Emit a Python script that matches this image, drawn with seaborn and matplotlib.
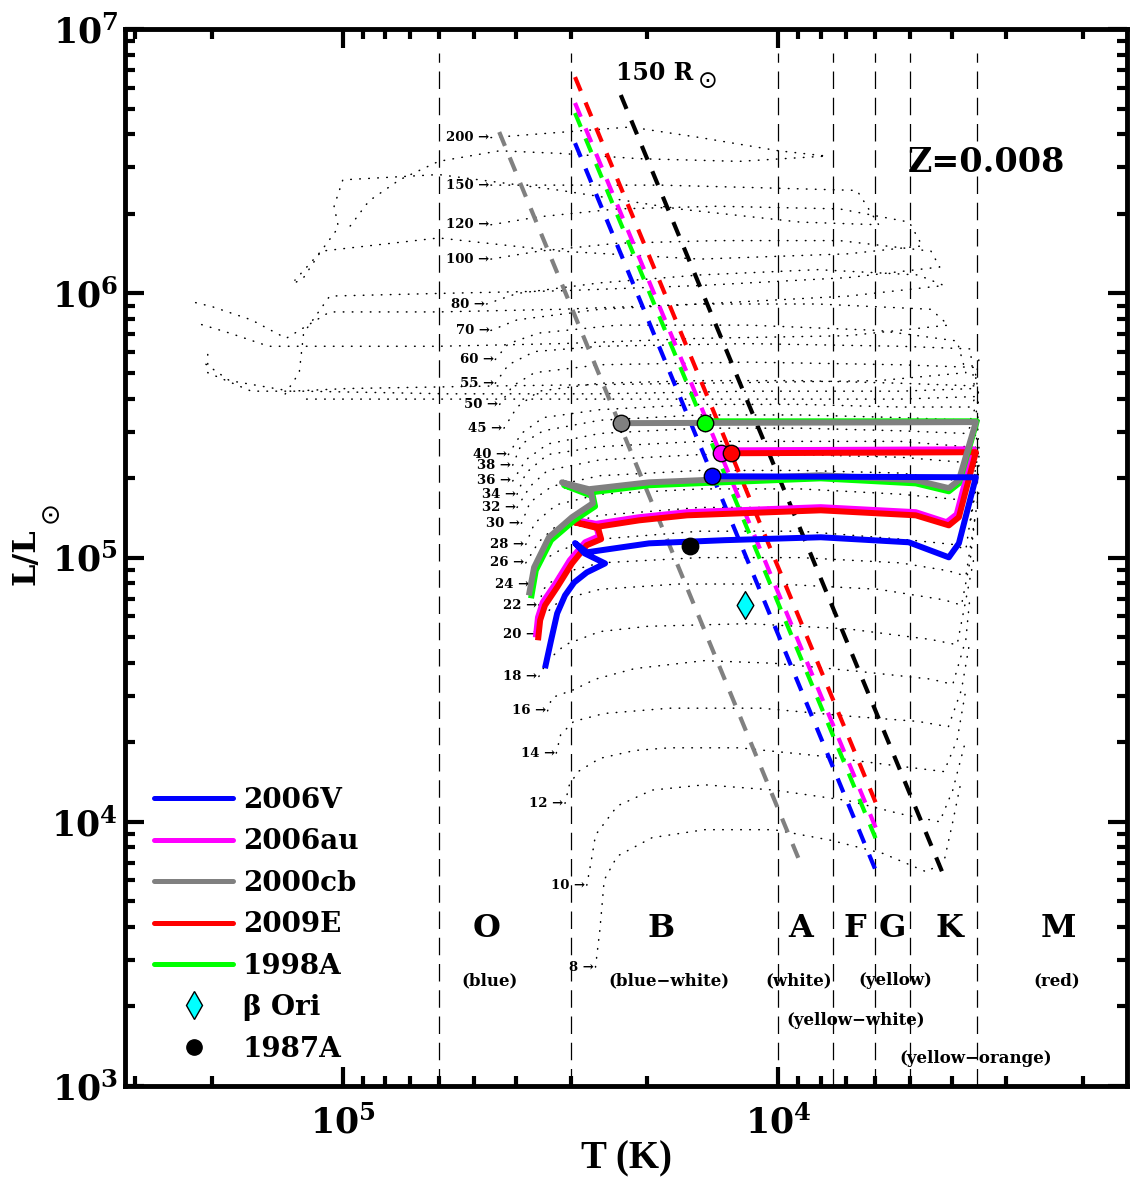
import numpy as np
import matplotlib
matplotlib.use("Agg")
import matplotlib.pyplot as plt
import seaborn as sns
from matplotlib.lines import Line2D
from matplotlib.ticker import NullFormatter

# ------------------------------------------------------------------
# DATA (log10 T [K], log10 L [Lsun])
# ------------------------------------------------------------------
# Dotted stellar evolution tracks (Z=0.008), one pair of lists per mass
track_masses = [8, 10, 12, 14, 16, 18, 20, 22, 24, 26, 28, 30, 32, 34, 36,
                38, 40, 45, 50, 55, 60, 70, 80, 100, 120, 150, 200]

m8_logT = [4.42, 4.41, 4.40, 4.37, 4.29, 4.17, 4.01, 3.88, 3.76, 3.66, 3.62, 3.60, 3.58]
m8_logL = [3.45, 3.59, 3.78, 3.87, 3.94, 3.97, 3.97, 3.93, 3.88, 3.81, 3.85, 4.00, 4.16]
m10_logT = [4.44, 4.43, 4.42, 4.37, 4.29, 4.17, 4.01, 3.84, 3.72, 3.63, 3.60, 3.57]
m10_logL = [3.76, 3.85, 3.95, 4.06, 4.12, 4.14, 4.12, 4.08, 4.03, 4.00, 4.12, 4.31]
m12_logT = [4.49, 4.48, 4.46, 4.41, 4.33, 4.25, 4.09, 3.91, 3.72, 3.62, 3.59, 3.57]
m12_logL = [4.07, 4.14, 4.19, 4.24, 4.27, 4.28, 4.28, 4.25, 4.21, 4.19, 4.31, 4.50]
m14_logT = [4.51, 4.50, 4.47, 4.40, 4.25, 4.04, 3.84, 3.68, 3.61, 3.58, 3.56]
m14_logL = [4.26, 4.33, 4.38, 4.41, 4.43, 4.43, 4.40, 4.38, 4.36, 4.50, 4.69]
m16_logT = [4.53, 4.52, 4.47, 4.42, 4.33, 4.17, 4.01, 3.82, 3.65, 3.60, 3.57, 3.56]
m16_logL = [4.42, 4.47, 4.50, 4.54, 4.58, 4.61, 4.60, 4.57, 4.54, 4.52, 4.69, 4.86]
m18_logT = [4.55, 4.53, 4.49, 4.41, 4.30, 4.07, 3.84, 3.65, 3.59, 3.57, 3.55]
m18_logL = [4.55, 4.61, 4.67, 4.72, 4.74, 4.75, 4.73, 4.69, 4.67, 4.84, 5.01]
m20_logT = [4.55, 4.54, 4.50, 4.41, 4.23, 4.00, 3.77, 3.62, 3.58, 3.56, 3.55]
m20_logL = [4.71, 4.78, 4.84, 4.88, 4.90, 4.90, 4.88, 4.84, 4.82, 4.99, 5.14]
m22_logT = [4.55, 4.54, 4.50, 4.41, 4.18, 3.95, 3.72, 3.61, 3.57, 3.55, 3.54]
m22_logL = [4.82, 4.88, 4.94, 4.98, 5.00, 5.00, 4.98, 4.95, 4.93, 5.14, 5.25]
m24_logT = [4.57, 4.55, 4.50, 4.41, 4.18, 3.95, 3.72, 3.60, 3.57, 3.55, 3.54]
m24_logL = [4.90, 4.98, 5.03, 5.07, 5.10, 5.10, 5.07, 5.05, 5.03, 5.25, 5.37]
m26_logT = [4.58, 4.55, 4.51, 4.41, 4.18, 3.95, 3.72, 3.59, 3.56, 3.54, 3.54]
m26_logL = [4.98, 5.06, 5.12, 5.16, 5.19, 5.19, 5.17, 5.14, 5.13, 5.33, 5.44]
m28_logT = [4.58, 4.56, 4.51, 4.41, 4.18, 3.95, 3.72, 3.59, 3.56, 3.54]
m28_logL = [5.05, 5.13, 5.20, 5.24, 5.26, 5.26, 5.24, 5.22, 5.22, 5.41]
m30_logT = [4.59, 4.57, 4.52, 4.41, 4.18, 3.95, 3.72, 3.58, 3.55, 3.54]
m30_logL = [5.13, 5.21, 5.27, 5.31, 5.33, 5.33, 5.32, 5.29, 5.30, 5.48]
m32_logT = [4.60, 4.57, 4.53, 4.41, 4.18, 3.95, 3.72, 3.57, 3.55, 3.54]
m32_logL = [5.19, 5.27, 5.33, 5.37, 5.39, 5.39, 5.38, 5.36, 5.39, 5.52]
m34_logT = [4.60, 4.58, 4.53, 4.41, 4.18, 3.95, 3.72, 3.57, 3.55, 3.54]
m34_logL = [5.24, 5.32, 5.39, 5.42, 5.44, 5.44, 5.44, 5.42, 5.44, 5.56]
m36_logT = [4.61, 4.58, 4.53, 4.41, 4.18, 3.95, 3.72, 3.57, 3.55, 3.54]
m36_logL = [5.29, 5.37, 5.43, 5.47, 5.49, 5.49, 5.48, 5.47, 5.52, 5.60]
m38_logT = [4.61, 4.59, 4.54, 4.41, 4.18, 3.95, 3.72, 3.56, 3.54]
m38_logL = [5.35, 5.43, 5.48, 5.52, 5.54, 5.54, 5.53, 5.52, 5.60]
m40_logT = [4.62, 4.59, 4.54, 4.41, 4.18, 3.95, 3.72, 3.56, 3.54]
m40_logL = [5.39, 5.47, 5.53, 5.56, 5.58, 5.58, 5.57, 5.57, 5.63]
m45_logT = [4.63, 4.60, 4.55, 4.41, 4.18, 3.95, 3.72, 3.55, 3.54]
m45_logL = [5.49, 5.57, 5.63, 5.66, 5.67, 5.67, 5.66, 5.65, 5.75]
m50_logT = [4.64, 4.61, 4.56, 4.41, 4.07, 3.72, 3.55, 3.54, 3.72, 4.07, 4.41, 4.76, 5.09]
m50_logL = [5.58, 5.65, 5.70, 5.73, 5.74, 5.73, 5.72, 5.61, 5.60, 5.60, 5.60, 5.60, 5.60]
m55_logT = [4.65, 4.62, 4.56, 4.41, 4.07, 3.72, 3.56, 3.55, 3.72, 4.07, 4.41, 4.76, 5.09, 5.21, 5.31, 5.31]
m55_logL = [5.66, 5.73, 5.78, 5.80, 5.81, 5.80, 5.79, 5.64, 5.63, 5.63, 5.62, 5.62, 5.63, 5.63, 5.70, 5.79]
m60_logT = [4.65, 4.62, 4.55, 4.37, 4.07, 3.77, 3.59, 3.57, 3.77, 4.18, 4.64, 4.99, 5.12, 5.26, 5.33]
m60_logL = [5.75, 5.81, 5.85, 5.88, 5.88, 5.86, 5.82, 5.70, 5.67, 5.66, 5.65, 5.64, 5.63, 5.67, 5.75]
m70_logT = [4.66, 4.60, 4.41, 4.18, 3.91, 3.65, 3.61, 3.84, 4.18, 4.50, 4.78, 5.05, 5.17, 5.26, 5.34]
m70_logL = [5.86, 5.90, 5.94, 5.96, 5.96, 5.94, 5.88, 5.84, 5.83, 5.81, 5.80, 5.80, 5.80, 5.85, 5.89]
m80_logT = [4.67, 4.60, 4.41, 4.18, 3.91, 3.68, 3.62, 3.84, 4.18, 4.50, 4.78, 5.03, 5.13, 5.21, 5.30, 5.35]
m80_logL = [5.96, 6.00, 6.04, 6.07, 6.09, 6.07, 6.03, 5.99, 5.96, 5.94, 5.93, 5.93, 5.83, 5.90, 5.95, 5.97]
m100_logT = [4.66, 4.55, 4.37, 4.14, 3.86, 3.65, 3.63, 3.84, 4.18, 4.50, 4.78, 5.03, 5.09, 5.10, 5.14]
m100_logL = [6.13, 6.16, 6.19, 6.20, 6.20, 6.16, 6.10, 6.06, 6.03, 6.01, 6.00, 5.99, 5.85, 5.70, 5.60]
m120_logT = [4.66, 4.55, 4.37, 4.14, 3.86, 3.70, 3.67, 3.84, 4.18, 4.50, 4.78, 5.05, 5.09, 5.12]
m120_logL = [6.26, 6.29, 6.32, 6.33, 6.32, 6.27, 6.18, 6.15, 6.13, 6.16, 6.21, 6.16, 6.06, 6.03]
m150_logT = [4.66, 4.48, 4.27, 4.04, 3.82, 3.77, 3.95, 4.23, 4.50, 4.78, 5.00, 5.02, 5.01, 5.05, 5.11]
m150_logL = [6.41, 6.41, 6.41, 6.40, 6.39, 6.26, 6.27, 6.32, 6.39, 6.45, 6.43, 6.33, 6.25, 6.16, 6.05]
m200_logT = [4.66, 4.50, 4.34, 4.18, 4.00, 3.89, 4.09, 4.32, 4.50, 4.64, 4.78, 4.87, 4.94, 4.99]
m200_logL = [6.59, 6.61, 6.63, 6.59, 6.54, 6.52, 6.50, 6.51, 6.53, 6.54, 6.50, 6.43, 6.35, 6.24]

# Progenitor evolutionary tracks (thick coloured lines)
sn2006V_logT = [4.536, 4.522, 4.508, 4.490, 4.469, 4.440, 4.398, 4.445, 4.467, 4.440,
                4.297, 4.123, 3.903, 3.701, 3.609, 3.586, 3.547, 4.153]
sn2006V_logL = [4.581, 4.687, 4.789, 4.857, 4.906, 4.944, 4.978, 5.016, 5.055, 5.020,
                5.054, 5.066, 5.077, 5.058, 5.001, 5.054, 5.304, 5.308]
sn2006au_logT = [4.557, 4.552, 4.541, 4.513, 4.479, 4.444, 4.412, 4.419, 4.474, 4.419,
                 4.320, 4.210, 3.903, 3.685, 3.614, 3.591, 3.552, 4.132]
sn2006au_logL = [4.698, 4.774, 4.831, 4.899, 4.990, 5.058, 5.081, 5.122, 5.145, 5.128,
                 5.153, 5.172, 5.191, 5.172, 5.134, 5.164, 5.410, 5.406]
sn2009E_logT = [4.552, 4.547, 4.536, 4.508, 4.474, 4.440, 4.407, 4.414, 4.469, 4.414,
                4.320, 4.210, 3.903, 3.685, 3.609, 3.586, 3.547, 4.109]
sn2009E_logL = [4.687, 4.763, 4.819, 4.888, 4.978, 5.047, 5.070, 5.111, 5.134, 5.117,
                5.141, 5.160, 5.179, 5.160, 5.122, 5.153, 5.399, 5.395]
sn1998A_logT = [4.568, 4.557, 4.522, 4.469, 4.421, 4.426, 4.492, 4.430, 4.297, 3.903,
                3.685, 3.609, 3.586, 3.545, 4.169]
sn1998A_logL = [4.846, 4.952, 5.066, 5.141, 5.194, 5.232, 5.274, 5.247, 5.274, 5.300,
                5.281, 5.251, 5.281, 5.516, 5.516]
sn2000cb_logT = [4.573, 4.561, 4.527, 4.474, 4.426, 4.430, 4.497, 4.435, 4.297, 3.903,
                 3.685, 3.609, 3.586, 3.547, 4.362]
sn2000cb_logL = [4.857, 4.963, 5.077, 5.153, 5.206, 5.244, 5.285, 5.259, 5.285, 5.312,
                 5.293, 5.263, 5.293, 5.513, 5.509]

# Constant-radius lines (hot end / cool end)
radius_names = ["2000cb", "2006V", "1998A", "2006au", "2009E", "150 Rsun"]
radius_logT_hot = [4.641, 4.467, 4.467, 4.467, 4.467, 4.362]
radius_logL_hot = [6.611, 6.569, 6.683, 6.721, 6.819, 6.751]
radius_logT_cool = [3.954, 3.777, 3.777, 3.777, 3.777, 3.621]
radius_logL_cool = [3.861, 3.816, 3.937, 3.978, 4.073, 3.797]

# Progenitor end points (circles)
prog_names = ["2000cb", "1998A", "2006au", "2009E", "2006V"]
prog_logT = [4.362, 4.169, 4.132, 4.109, 4.153]
prog_logL = [5.509, 5.509, 5.395, 5.395, 5.308]

# Comparison stars
sn1987A_logT = [4.203]
sn1987A_logL = [5.043]
betaOri_logT = [4.077]
betaOri_logL = [4.819]

# Spectral class boundaries (K) and labels
class_bounds_T = [60000, 30000, 10000, 7500, 6000, 5000, 3500]
class_letters = ["O", "B", "A", "F", "G", "K", "M"]
class_letter_T = [46700, 18600, 8890, 6680, 5470, 4060, 2280]
class_letter_L = 3950
class_desc = ["(blue)", "(blue\u2212white)", "(white)", "(yellow)", "(red)",
              "(yellow\u2212white)", "(yellow\u2212orange)"]
class_desc_T = [46100, 17800, 8980, 5380, 2296, 6650, 3525]
class_desc_L = [2500, 2500, 2500, 2500, 2500, 1770, 1270]

# Colours
col = {"2006V": "#0000ff", "2006au": "#ff00ff", "2000cb": "#808080",
       "2009E": "#ff0000", "1998A": "#00ff00", "150 Rsun": "#000000"}

# ------------------------------------------------------------------
sns.set_style("ticks")
plt.rcParams["font.family"] = ["DejaVu Serif", "DejaVu Sans"]
plt.rcParams["font.weight"] = "bold"
plt.rcParams["mathtext.fontset"] = "custom"
plt.rcParams["mathtext.rm"] = "Liberation Serif:bold"
plt.rcParams["mathtext.bf"] = "Liberation Serif:bold"
plt.rcParams["mathtext.it"] = "Liberation Serif:bold"
plt.rcParams["mathtext.default"] = "rm"
plt.rcParams["axes.linewidth"] = 3.5
for k in ["text.color", "axes.labelcolor", "xtick.color", "ytick.color",
          "axes.edgecolor"]:
    plt.rcParams[k] = "black"

fig = plt.figure(figsize=(11.31, 11.80), dpi=100)
ax = fig.add_axes([0.1105, 0.0797, 0.886, 0.8955])
ax.set_xscale("log")
ax.set_yscale("log")
ax.set_xlim(10 ** 5.5, 10 ** 3.2)
ax.set_ylim(1e3, 1e7)


def p(v):
    return 10 ** np.asarray(v, dtype=float)


# dotted tracks
tracks = [(m8_logT, m8_logL), (m10_logT, m10_logL), (m12_logT, m12_logL),
          (m14_logT, m14_logL), (m16_logT, m16_logL), (m18_logT, m18_logL),
          (m20_logT, m20_logL), (m22_logT, m22_logL), (m24_logT, m24_logL),
          (m26_logT, m26_logL), (m28_logT, m28_logL), (m30_logT, m30_logL),
          (m32_logT, m32_logL), (m34_logT, m34_logL), (m36_logT, m36_logL),
          (m38_logT, m38_logL), (m40_logT, m40_logL), (m45_logT, m45_logL),
          (m50_logT, m50_logL), (m55_logT, m55_logL), (m60_logT, m60_logL),
          (m70_logT, m70_logL), (m80_logT, m80_logL), (m100_logT, m100_logL),
          (m120_logT, m120_logL), (m150_logT, m150_logL), (m200_logT, m200_logL)]
for (lt, ll) in tracks:
    sns.lineplot(x=p(lt), y=p(ll), sort=False, estimator=None, ax=ax,
                 color="black", linewidth=1.1, linestyle=(0, (0.4, 5.5)),
                 dash_capstyle="round", legend=False, zorder=1)

# mass labels at ZAMS
for m, (lt, ll) in zip(track_masses, tracks):
    ax.annotate(f"{m} \u2192", xy=(p(lt[0]), p(ll[0])), xytext=(-1, 0),
                textcoords="offset points", ha="right", va="center",
                fontsize=9.5, fontweight="bold", zorder=2)

# spectral class boundaries
for T in class_bounds_T:
    ax.axvline(T, ymin=0, ymax=0.978, color="black", linewidth=0.9,
               linestyle=(0, (14, 7)), zorder=1)

# radius lines
for name, th, lh, tc, lc in zip(radius_names, radius_logT_hot, radius_logL_hot,
                                radius_logT_cool, radius_logL_cool):
    sns.lineplot(x=p([th, tc]), y=p([lh, lc]), sort=False, estimator=None, ax=ax,
                 color=col[name], linewidth=3.0, linestyle=(0, (3.6, 3.0)),
                 legend=False, zorder=3)

# progenitor tracks
sn_tracks = [("2006au", sn2006au_logT, sn2006au_logL),
             ("2009E", sn2009E_logT, sn2009E_logL),
             ("1998A", sn1998A_logT, sn1998A_logL),
             ("2000cb", sn2000cb_logT, sn2000cb_logL),
             ("2006V", sn2006V_logT, sn2006V_logL)]
for name, lt, ll in sn_tracks:
    sns.lineplot(x=p(lt), y=p(ll), sort=False, estimator=None, ax=ax,
                 color=col[name], linewidth=4.3, solid_joinstyle="round",
                 solid_capstyle="butt", legend=False, zorder=4)

# end points
for name, lt, ll in zip(prog_names, prog_logT, prog_logL):
    sns.scatterplot(x=p([lt]), y=p([ll]), ax=ax, color=col[name], s=140,
                    edgecolor="black", linewidth=1.0, legend=False, zorder=6)
sns.scatterplot(x=p(sn1987A_logT), y=p(sn1987A_logL), ax=ax, color="black",
                s=140, edgecolor="black", linewidth=1.0, legend=False, zorder=6)
sns.scatterplot(x=p(betaOri_logT), y=p(betaOri_logL), ax=ax, color="#00ffff",
                marker="d", s=200, edgecolor="black", linewidth=1.0,
                legend=False, zorder=6)

# spectral class texts
for letter, T in zip(class_letters, class_letter_T):
    ax.text(T, class_letter_L, letter, ha="center", va="center",
            fontsize=23, fontweight="bold")
for d, T, L in zip(class_desc, class_desc_T, class_desc_L):
    ax.text(T, L, d, ha="center", va="center", fontsize=12, fontweight="bold")

ax.text(0.860, 0.874, "Z=0.008", transform=ax.transAxes, ha="center",
        va="center", fontsize=24, fontweight="bold")
ax.text(0.529, 0.959, "150 R", transform=ax.transAxes, ha="center",
        va="center", fontsize=17, fontweight="bold")
ax.text(0.582, 0.951, "\u2299", transform=ax.transAxes, ha="center",
        va="center", fontsize=17, fontweight="normal", family="DejaVu Sans")

# axes cosmetics
ax.tick_params(which="both", direction="in", top=True, right=True,
               width=3, colors="black")
ax.tick_params(which="major", length=14, labelsize=25)
ax.tick_params(which="minor", length=7)
ax.tick_params(axis="x", which="major", pad=14)
ax.tick_params(axis="y", which="major", pad=5)
ax.xaxis.set_minor_formatter(NullFormatter())
ax.yaxis.set_minor_formatter(NullFormatter())
ax.set_xlabel("T (K)", fontsize=28, fontweight="bold", labelpad=0,
              family="Liberation Serif")
for s in ax.spines.values():
    s.set_linewidth(3.5)
    s.set_visible(True)

fig.text(26 / 1131, 1 - 557 / 1180, "L/L", rotation=90, ha="center",
         va="center", fontsize=23, fontweight="bold")
fig.text(51 / 1131, 1 - 512 / 1180, "\u2299", rotation=90, ha="center",
         va="center", fontsize=19, fontweight="normal", family="DejaVu Sans")

# legend
handles = [Line2D([], [], color=col["2006V"], lw=3.6),
           Line2D([], [], color=col["2006au"], lw=3.6),
           Line2D([], [], color=col["2000cb"], lw=3.6),
           Line2D([], [], color=col["2009E"], lw=3.6),
           Line2D([], [], color=col["1998A"], lw=3.6),
           Line2D([], [], color="#00ffff", marker="d", ms=14, mec="black",
                  mew=1.0, ls="none"),
           Line2D([], [], color="black", marker="o", ms=11, ls="none")]
labels = ["2006V", "2006au", "2000cb", "2009E", "1998A", "\u03b2 Ori", "1987A"]
ax.legend(handles, labels, loc="upper left", bbox_to_anchor=(0.029, 0.283),
          frameon=False, handlelength=2.85, handletextpad=0.35,
          labelspacing=0.52, borderpad=0, borderaxespad=0,
          prop={"weight": "bold", "size": 20, "family": "DejaVu Serif"})

fig.savefig("out.png", dpi=100)
